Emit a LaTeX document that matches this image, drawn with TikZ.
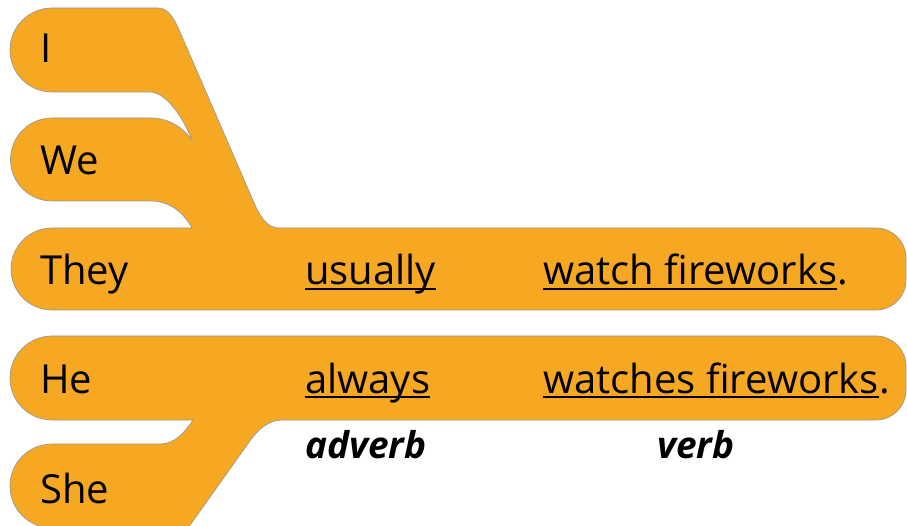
\documentclass[tikz,border=0pt]{standalone}
\usepackage{fontspec}
\setmainfont{Open Sans}
\definecolor{barorange}{RGB}{247,168,35}
\tikzset{
	bar/.style={fill=barorange, draw=black!40, line width=0.7pt},
	word/.style={anchor=base west, inner sep=0pt, font=\fontsize{40}{44}\selectfont},
	tag/.style={anchor=base west, inner sep=0pt, font=\fontsize{37}{40}\selectfont\bfseries\itshape},
	uline/.style={line width=1.8pt}
}
\begin{document}
\begin{tikzpicture}[x=1pt, y=-1pt]
	\useasboundingbox (0,0) rectangle (907,526);

	% I, We and They run into one bar
	\draw[bar] (52,8) -- (158,8) .. controls (168,8) and (174,18) .. (180,32)
		-- (255,205) .. controls (262,220) and (268,228) .. (280,228)
		-- (876,228) arc[start angle=90, end angle=0, radius=30pt]
		-- (906,280) arc[start angle=0, end angle=-90, radius=30pt]
		-- (52,310) arc[start angle=270, end angle=90, radius=41pt]
		-- (192,228) .. controls (183,212) and (170,201) .. (150,201)
		-- (52,201) arc[start angle=270, end angle=90, radius=41.5pt]
		-- (150,118) .. controls (170,118) and (183,128) .. (192,140)
		.. controls (182,115) and (165,92) .. (150,92)
		-- (52,92) arc[start angle=270, end angle=90, radius=42pt] -- cycle;

	% He and She
	\draw[bar] (52,336) -- (876,336) arc[start angle=90, end angle=0, radius=30pt]
		-- (906,390) arc[start angle=0, end angle=-90, radius=30pt]
		-- (283,420) .. controls (266,420) and (256,432) .. (247,445)
		-- (188,528) -- (52,528) arc[start angle=270, end angle=90, radius=42pt]
		-- (160,444) .. controls (175,444) and (185,432) .. (193,420)
		-- (52,420) arc[start angle=270, end angle=90, radius=42pt] -- cycle;

	\node[word] (i) at (40,63) {I};
	\node[word] (we) at (40,175) {We};
	\node[word] (they) at (40,285) {They};
	\node[word] (he) at (40,393) {He};
	\node[word] (she) at (40,503) {She};

	\node[word] (usually) at (305,285) {usually};
	\node[word] (watch) at (543,285) {watch fireworks};
	\node[word] (dot1) at (watch.base east) {.};
	\node[word] (always) at (305,393) {always};
	\node[word] (watches) at (543,393) {watches fireworks};
	\node[word] (dot2) at (watches.base east) {.};

	\foreach \w in {usually, watch, always, watches}
		\draw[uline] ([yshift=-4pt]\w.base west) -- ([yshift=-4pt]\w.base east);

	\node[tag] (adverb) at (305,458) {adverb};
	\node[tag] (verb) at (657,458) {verb};
\end{tikzpicture}
\end{document}
